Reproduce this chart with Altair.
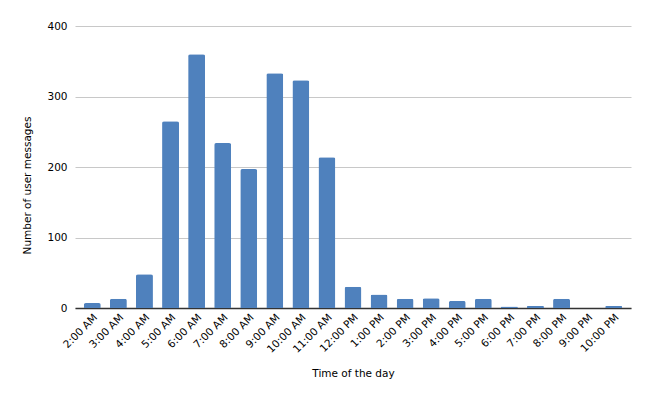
import altair as alt
import pandas as pd

hours = ["2:00 AM", "3:00 AM", "4:00 AM", "5:00 AM", "6:00 AM", "7:00 AM", "8:00 AM",
         "9:00 AM", "10:00 AM", "11:00 AM", "12:00 PM", "1:00 PM", "2:00 PM", "3:00 PM",
         "4:00 PM", "5:00 PM", "6:00 PM", "7:00 PM", "8:00 PM", "9:00 PM", "10:00 PM"]
messages = [7, 13, 48, 265, 360, 234, 197, 333, 323, 214, 30, 19, 13, 14, 10, 13, 2, 3, 13, 0, 3]

df = pd.DataFrame({"hour": hours, "count": messages})

FONT = "DejaVu Sans"

chart = alt.Chart(df).mark_bar(
    color="#4F81BD", cornerRadiusTopLeft=2, cornerRadiusTopRight=2
).encode(
    x=alt.X("hour:N", sort=hours, title="Time of the day",
            scale=alt.Scale(paddingInner=0.35, paddingOuter=0.34),
            axis=alt.Axis(labelAngle=-45, labelAlign="right", labelBaseline="top",
                          ticks=False, domainColor="#333333", domainWidth=1.5,
                          labelFontSize=10.5, labelColor="#000000", labelPadding=4,
                          titleFontSize=10.5, titleFontWeight="normal", titleColor="#000000",
                          titlePadding=14)),
    y=alt.Y("count:Q", title="Number of user messages",
            scale=alt.Scale(domain=[0, 400]),
            axis=alt.Axis(values=[0, 100, 200, 300, 400], ticks=False, domain=False,
                          gridColor="#C8C8C8", gridWidth=1,
                          labelFontSize=10.5, labelColor="#000000", labelPadding=8,
                          titleFontSize=10.5, titleFontWeight="normal", titleColor="#000000",
                          titlePadding=14, titleY=159)),
).properties(
    width=556, height=282,
    autosize=alt.AutoSizeParams(type="none"),
    padding={"left": 67, "top": 18, "right": 12, "bottom": 78},
).configure(font=FONT).configure_view(stroke=None)

chart.save("out.html", embed_options={"renderer": "svg", "actions": False})
